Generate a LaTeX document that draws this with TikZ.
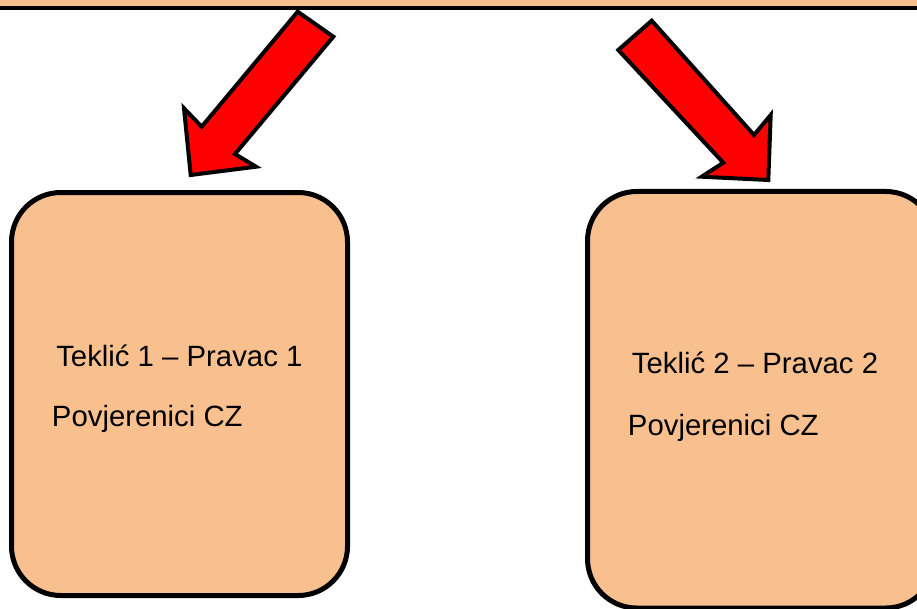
\documentclass[tikz,border=0pt]{standalone}
\usepackage{fontspec}
\setmainfont{Liberation Sans}
\definecolor{boxfill}{RGB}{249,192,143}
\definecolor{arrred}{RGB}{255,0,0}
\tikzset{
  box/.style={draw=black, fill=boxfill, line width=3.75pt, rounded corners=37pt, inner sep=0pt},
  bar/.style={draw=black, fill=boxfill, line width=3.6pt},
  blockarrow/.style={draw=black, fill=arrred, line width=3pt, line join=miter},
  label/.style={anchor=base west, inner sep=0pt, font=\fontsize{22pt}{26pt}\selectfont}
}
\begin{document}
\begin{tikzpicture}[x=0.75pt,y=-0.75pt]
\useasboundingbox (0,0) rectangle (917,608);
\clip (0,0) rectangle (917,608);
\fill[white] (0,0) rectangle (917,608);
% top bar
\draw[bar] (-20,-40) rectangle (940,8);
% boxes
\node[box, minimum width=252pt, minimum height=302.25pt] (b1) at (179.5,394) {};
\node[box, minimum width=260.6pt, minimum height=312.4pt] (b2) at (761.25,399.75) {};
% texts
\node[label] (t1a) at (56,366.7) {Teklić 1 – Pravac 1};
\node[label] (t1b) at (51.7,426.7) {Povjerenici CZ};
\node[label] (t2a) at (631.7,373.3) {Teklić 2 – Pravac 2};
\node[label] (t2b) at (627.7,435) {Povjerenici CZ};
% block arrows
\draw[blockarrow] (297.7,11.7) -- (333.3,36.7) -- (235,154) -- (256,166.7) -- (190.7,175) -- (184,108.3) -- (201.7,126.7) -- cycle;
\draw[blockarrow] (651.7,20.7) -- (618.3,50) -- (723.3,162.7) -- (701.7,176.7) -- (768.3,180) -- (770.7,115) -- (754,135) -- cycle;
\end{tikzpicture}
\end{document}
